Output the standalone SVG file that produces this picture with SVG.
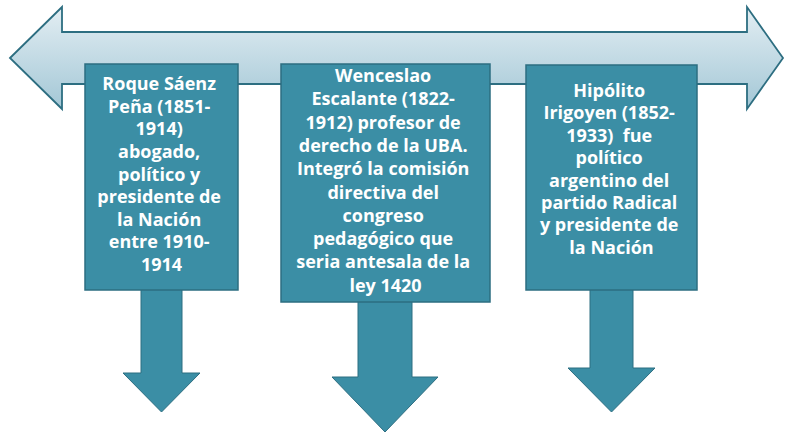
<svg xmlns="http://www.w3.org/2000/svg" width="787" height="433" viewBox="0 0 787 433">
  <defs>
    <linearGradient id="tl" x1="0" y1="7" x2="0" y2="109" gradientUnits="userSpaceOnUse">
      <stop offset="0" stop-color="#e3eef3"/>
      <stop offset="1" stop-color="#a3c7d6"/>
    </linearGradient>
    <style>
      .box { fill: #3b8ea5; stroke: #2d6e81; stroke-width: 1.5; }
      .down { fill: #3b8ea5; stroke: #2d6e81; stroke-width: 1; }
      .t { fill: #ffffff; font-family: "Open Sans", "Liberation Sans", sans-serif; font-weight: bold; font-size: 18px; text-anchor: middle; }
    </style>
  </defs>
  <rect width="787" height="433" fill="#ffffff"/>
  <g id="timeline">
    <polygon points="10,58 62,7 62,32 747,32 747,7 783,58 747,109 747,84 62,84 62,109" fill="url(#tl)" stroke="#2d6e81" stroke-width="1.8" stroke-linejoin="miter"/>
  </g>
  <g id="connectors">
    <polygon class="down" points="141,285 182,285 182,373 200,373 161.5,412 123,373 141,373"/>
    <polygon class="down" points="358,297 412,297 412,377 438,377 385,432 332,377 358,377"/>
    <polygon class="down" points="590,285 633,285 633,368 655,368 611.5,412 568,368 590,368"/>
  </g>
  <g id="node-saenz-pena">
    <rect class="box" x="85" y="64" width="153" height="226"/>
    <text class="t">
      <tspan x="161.5" y="90">Roque Sáenz</tspan>
      <tspan x="161.5" y="112.7">Peña (1851-</tspan>
      <tspan x="161.5" y="135.3">1914)</tspan>
      <tspan x="161.5" y="158">abogado,</tspan>
      <tspan x="161.5" y="180.6">político y</tspan>
      <tspan x="161.5" y="203.2">presidente de</tspan>
      <tspan x="161.5" y="225.8">la Nación</tspan>
      <tspan x="161.5" y="248.4">entre 1910-</tspan>
      <tspan x="161.5" y="271">1914</tspan>
    </text>
  </g>
  <g id="node-escalante">
    <rect class="box" x="281" y="64" width="209" height="238"/>
    <text class="t">
      <tspan x="385.5" y="82">Wenceslao</tspan>
      <tspan x="385.5" y="105.3">Escalante (1822-</tspan>
      <tspan x="385.5" y="128.6">1912) profesor de</tspan>
      <tspan x="385.5" y="151.9">derecho de la UBA.</tspan>
      <tspan x="385.5" y="175.2">Integró la comisión</tspan>
      <tspan x="385.5" y="198.5">directiva del</tspan>
      <tspan x="385.5" y="221.8">congreso</tspan>
      <tspan x="385.5" y="245.1">pedagógico que</tspan>
      <tspan x="385.5" y="268.4">seria antesala de la</tspan>
      <tspan x="385.5" y="291.7">ley 1420</tspan>
    </text>
  </g>
  <g id="node-irigoyen">
    <rect class="box" x="526" y="65" width="171" height="225"/>
    <text class="t">
      <tspan x="611.5" y="97">Hipólito</tspan>
      <tspan x="611.5" y="119.4">Irigoyen (1852-</tspan>
      <tspan x="611.5" y="141.8" xml:space="preserve">1933)  fue</tspan>
      <tspan x="611.5" y="164.2">político</tspan>
      <tspan x="611.5" y="186.6">argentino del</tspan>
      <tspan x="611.5" y="209">partido Radical</tspan>
      <tspan x="611.5" y="231.4">y presidente de</tspan>
      <tspan x="611.5" y="253.8">la Nación</tspan>
    </text>
  </g>
</svg>
